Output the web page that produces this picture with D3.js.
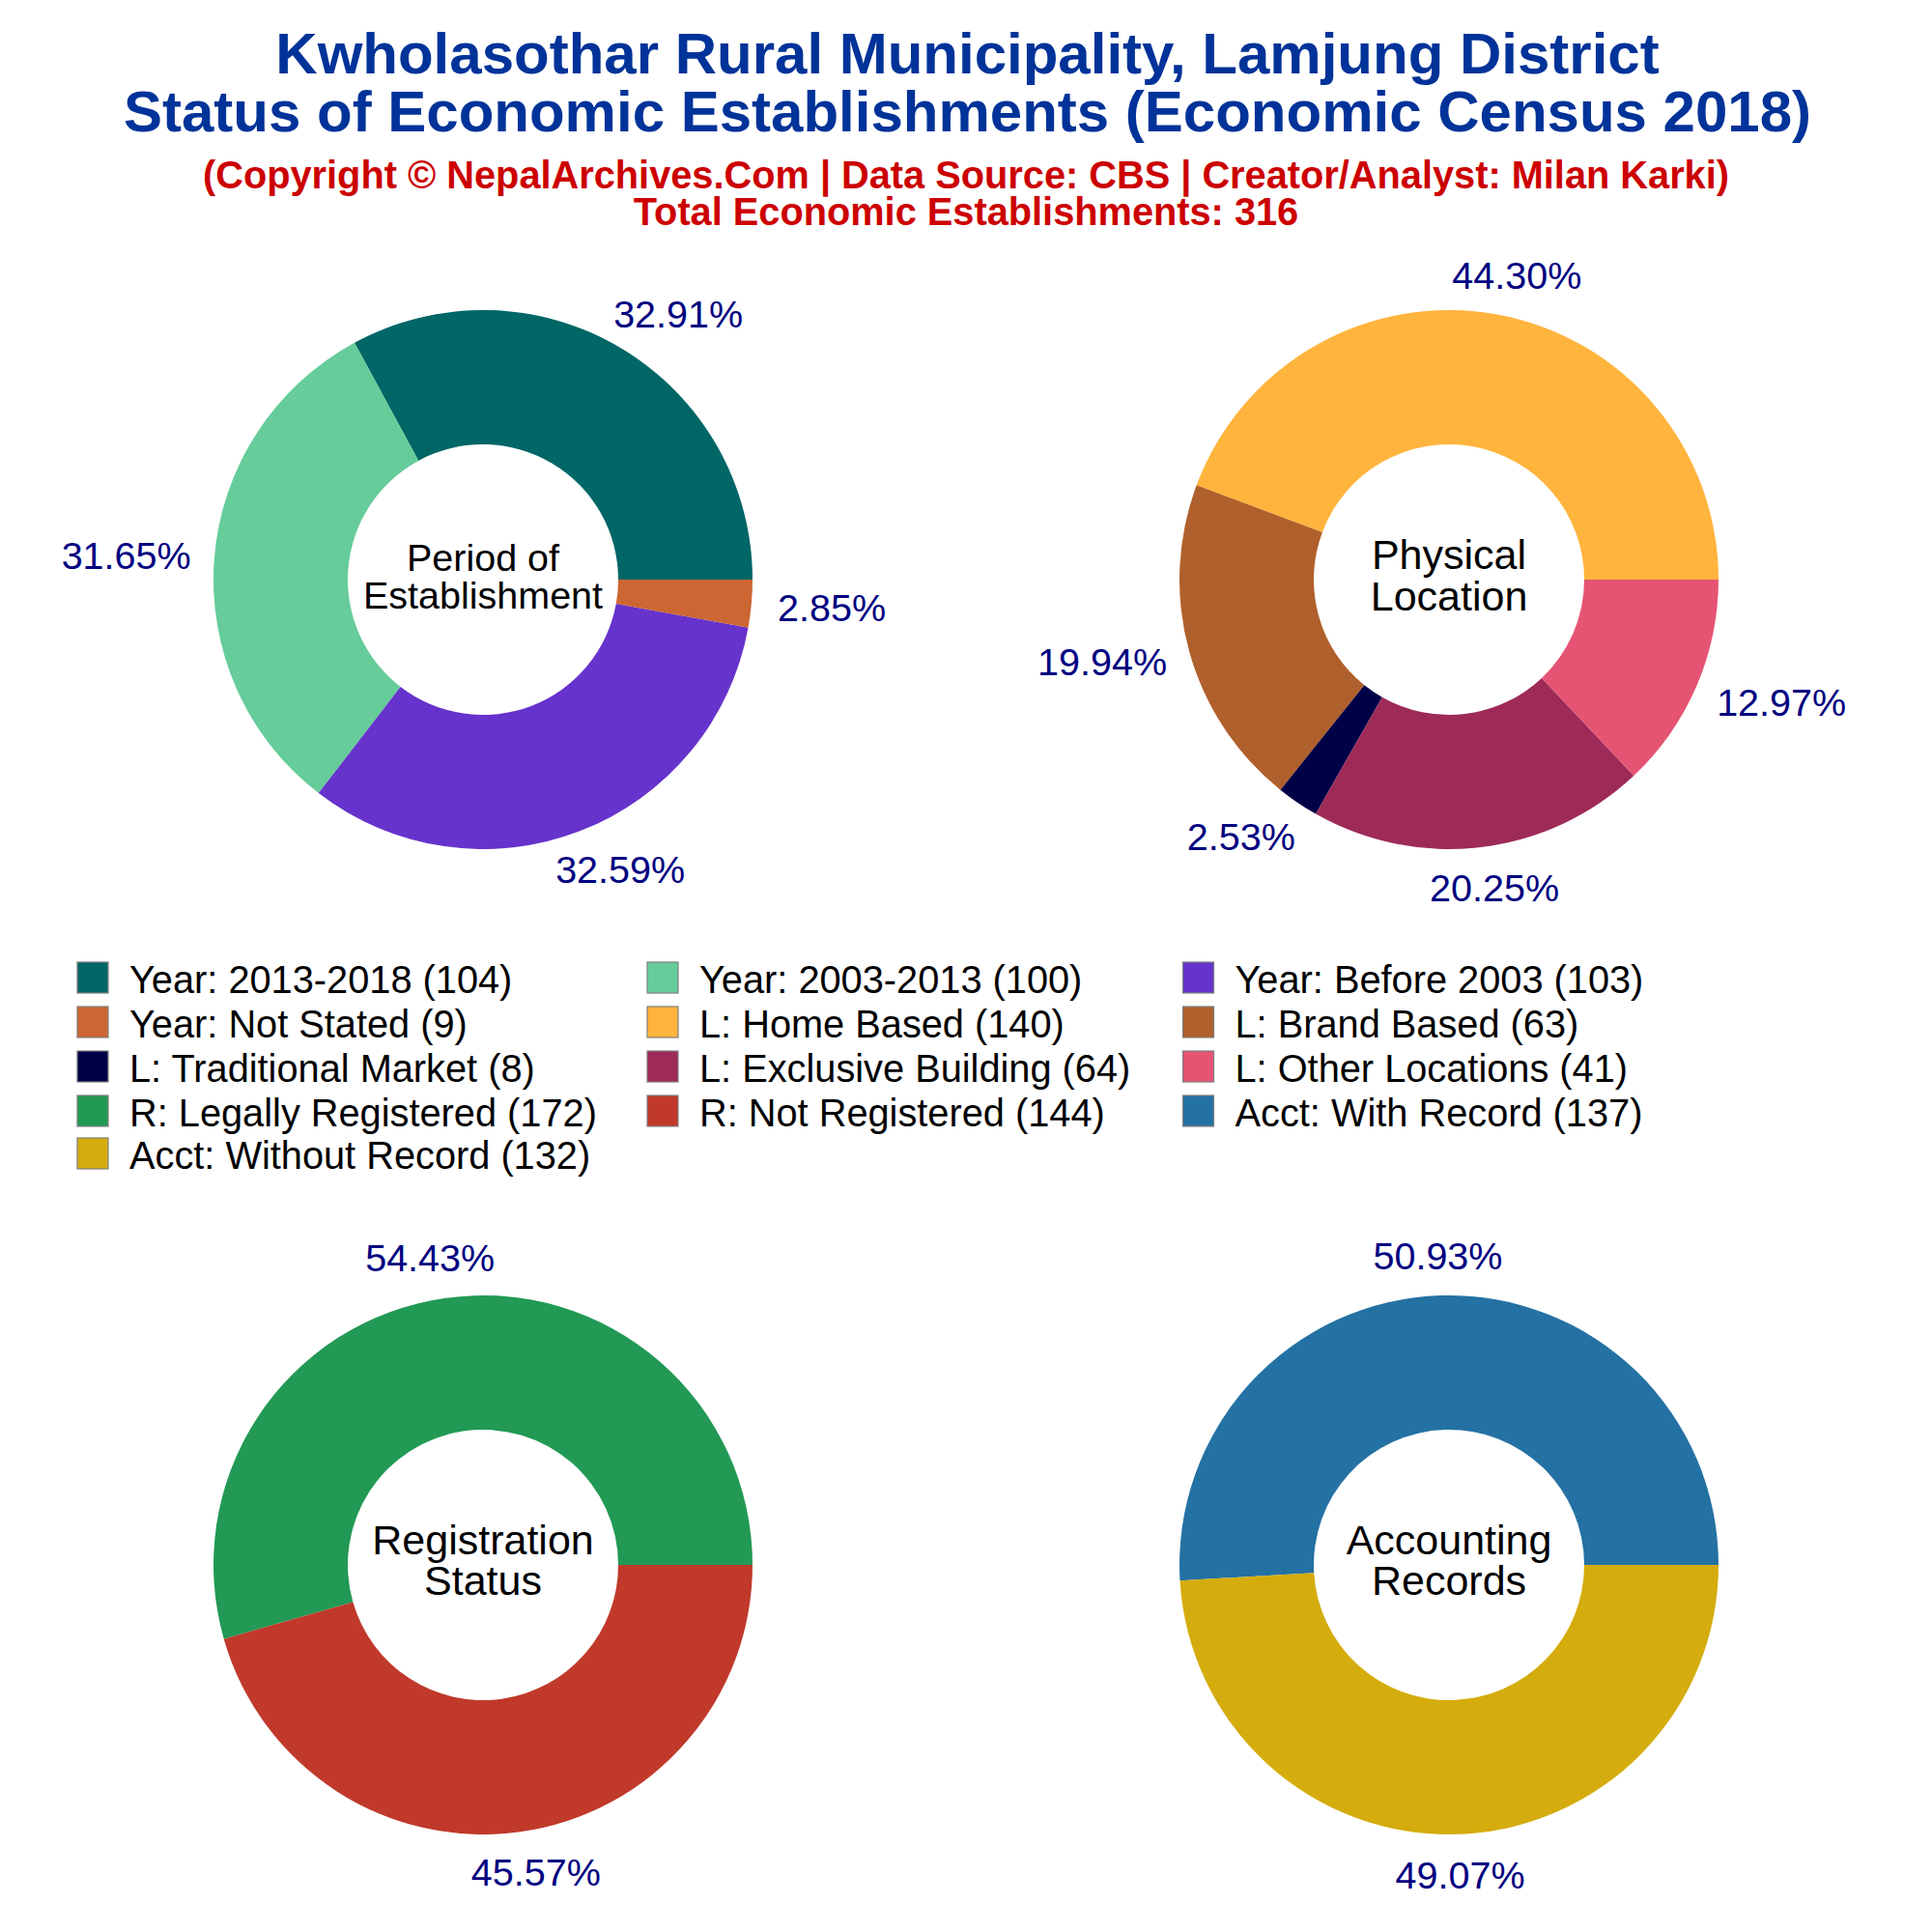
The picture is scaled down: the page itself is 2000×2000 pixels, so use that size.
<!DOCTYPE html>
<html>
<head>
<meta charset="utf-8">
<script src="https://cdn.jsdelivr.net/npm/d3@7"></script>
<style>
  body { margin: 0; background: #fff; }
  text { font-family: "Liberation Sans", Arial, sans-serif; }
</style>
</head>
<body>
<svg id="chart" width="2000" height="2000"></svg>
<script>
// values
const yearNames = ["Year: 2013-2018", "Year: 2003-2013", "Year: Before 2003", "Year: Not Stated"];
const yearValues = [104, 100, 103, 9];
const yearColors = ["#006666", "#66CC99", "#6633CC", "#CC6633"];

const locationNames = ["L: Home Based", "L: Brand Based", "L: Traditional Market", "L: Exclusive Building", "L: Other Locations"];
const locationValues = [140, 63, 8, 64, 41];
const locationColors = ["#FFB43D", "#B0602C", "#000047", "#9E2A58", "#E55473"];

const regNames = ["R: Legally Registered", "R: Not Registered"];
const regValues = [172, 144];
const regColors = ["#229954", "#C0392B"];

const acctNames = ["Acct: With Record", "Acct: Without Record"];
const acctValues = [137, 132];
const acctColors = ["#2471A3", "#D4AC0D"];

const titleLines = ["Kwholasothar Rural Municipality, Lamjung District", "Status of Economic Establishments (Economic Census 2018)"];
const subtitleLines = ["(Copyright © NepalArchives.Com | Data Source: CBS | Creator/Analyst: Milan Karki)", "Total Economic Establishments: 316"];

const panels = [
  { names: yearNames, values: yearValues, colors: yearColors, label: ["Period of", "Establishment"], cx: 500, cy: 600, size: 39.5, gap: 39.3, lift: 3.8 },
  { names: locationNames, values: locationValues, colors: locationColors, label: ["Physical", "Location"], cx: 1500, cy: 600, size: 43, gap: 42.2, lift: 5 },
  { names: regNames, values: regValues, colors: regColors, label: ["Registration", "Status"], cx: 500, cy: 1620, size: 43, gap: 42, lift: 5 },
  { names: acctNames, values: acctValues, colors: acctColors, label: ["Accounting", "Records"], cx: 1500, cy: 1620, size: 43, gap: 42, lift: 5 }
];

const outerR = 279;
const innerR = 140;
const svg = d3.select("#chart");

// titles
const titleBase = [76, 136];
svg.selectAll(".title").data(titleLines).join("text")
  .attr("class", "title")
  .attr("x", 1001.5)
  .attr("y", (d, i) => titleBase[i])
  .attr("text-anchor", "middle")
  .attr("font-size", 60)
  .attr("font-weight", "bold")
  .attr("fill", "#003399")
  .text(d => d);

const subBase = [195, 233];
svg.selectAll(".subtitle").data(subtitleLines).join("text")
  .attr("class", "subtitle")
  .attr("x", 1000)
  .attr("y", (d, i) => subBase[i])
  .attr("text-anchor", "middle")
  .attr("font-size", 39.75)
  .attr("font-weight", "bold")
  .attr("fill", "#CC0000")
  .text(d => d);

// donuts, counter clockwise from 3 o'clock
const pie = d3.pie().sort(null).startAngle(Math.PI / 2).endAngle(Math.PI / 2 - 2 * Math.PI);
const arc = d3.arc().innerRadius(innerR).outerRadius(outerR);

panels.forEach(p => {
  const g = svg.append("g").attr("transform", `translate(${p.cx},${p.cy})`);
  const total = d3.sum(p.values);
  const slices = pie(p.values);

  g.selectAll("path").data(slices).join("path")
    .attr("d", arc)
    .attr("fill", (d, i) => p.colors[i]);

  g.selectAll(".pct").data(slices).join("text")
    .attr("class", "pct")
    .attr("font-size", 39.5)
    .attr("fill", "#000080")
    .attr("text-anchor", "middle")
    .attr("dy", "0.36em")
    .text(d => (d.value / total * 100).toFixed(2) + "%")
    .each(function (d) {
      const mid = (d.startAngle + d.endAngle) / 2;
      const c = Math.sin(mid), s = -Math.cos(mid);
      const w = this.getComputedTextLength();
      // labels sit at 1.15R and get pushed out sideways by part of their width
      const push = 0.37 * w * Math.sign(c) * Math.min(1, Math.abs(c) * 1.5);
      d3.select(this)
        .attr("x", 1.15 * outerR * c + push)
        .attr("y", 1.15 * outerR * s);
    });

  g.selectAll(".centre").data(p.label).join("text")
    .attr("class", "centre")
    .attr("text-anchor", "middle")
    .attr("font-size", p.size)
    .attr("fill", "#000")
    .attr("y", (d, i) => (i - 0.5) * p.gap - p.lift)
    .attr("dy", "0.36em")
    .text(d => d);
});

// legend, filled row by row in three columns
const legendItems = panels.flatMap(p => p.names.map((n, i) => ({ name: n, value: p.values[i], color: p.colors[i] })));
const colX = [80, 670, 1224.5];
const rowTop = [996, 1042, 1088, 1134, 1178];

const items = svg.selectAll(".legend").data(legendItems).join("g")
  .attr("class", "legend")
  .attr("transform", (d, i) => `translate(${colX[i % 3]},${rowTop[Math.floor(i / 3)]})`);

items.append("rect")
  .attr("width", 32)
  .attr("height", 32)
  .attr("fill", d => d.color)
  .attr("stroke", "#7f7f7f")
  .attr("stroke-width", 1.2);

items.append("text")
  .attr("x", 54)
  .attr("y", 31.5)
  .attr("font-size", 39.75)
  .attr("fill", "#000")
  .text(d => `${d.name} (${d.value})`);
</script>
</body>
</html>
